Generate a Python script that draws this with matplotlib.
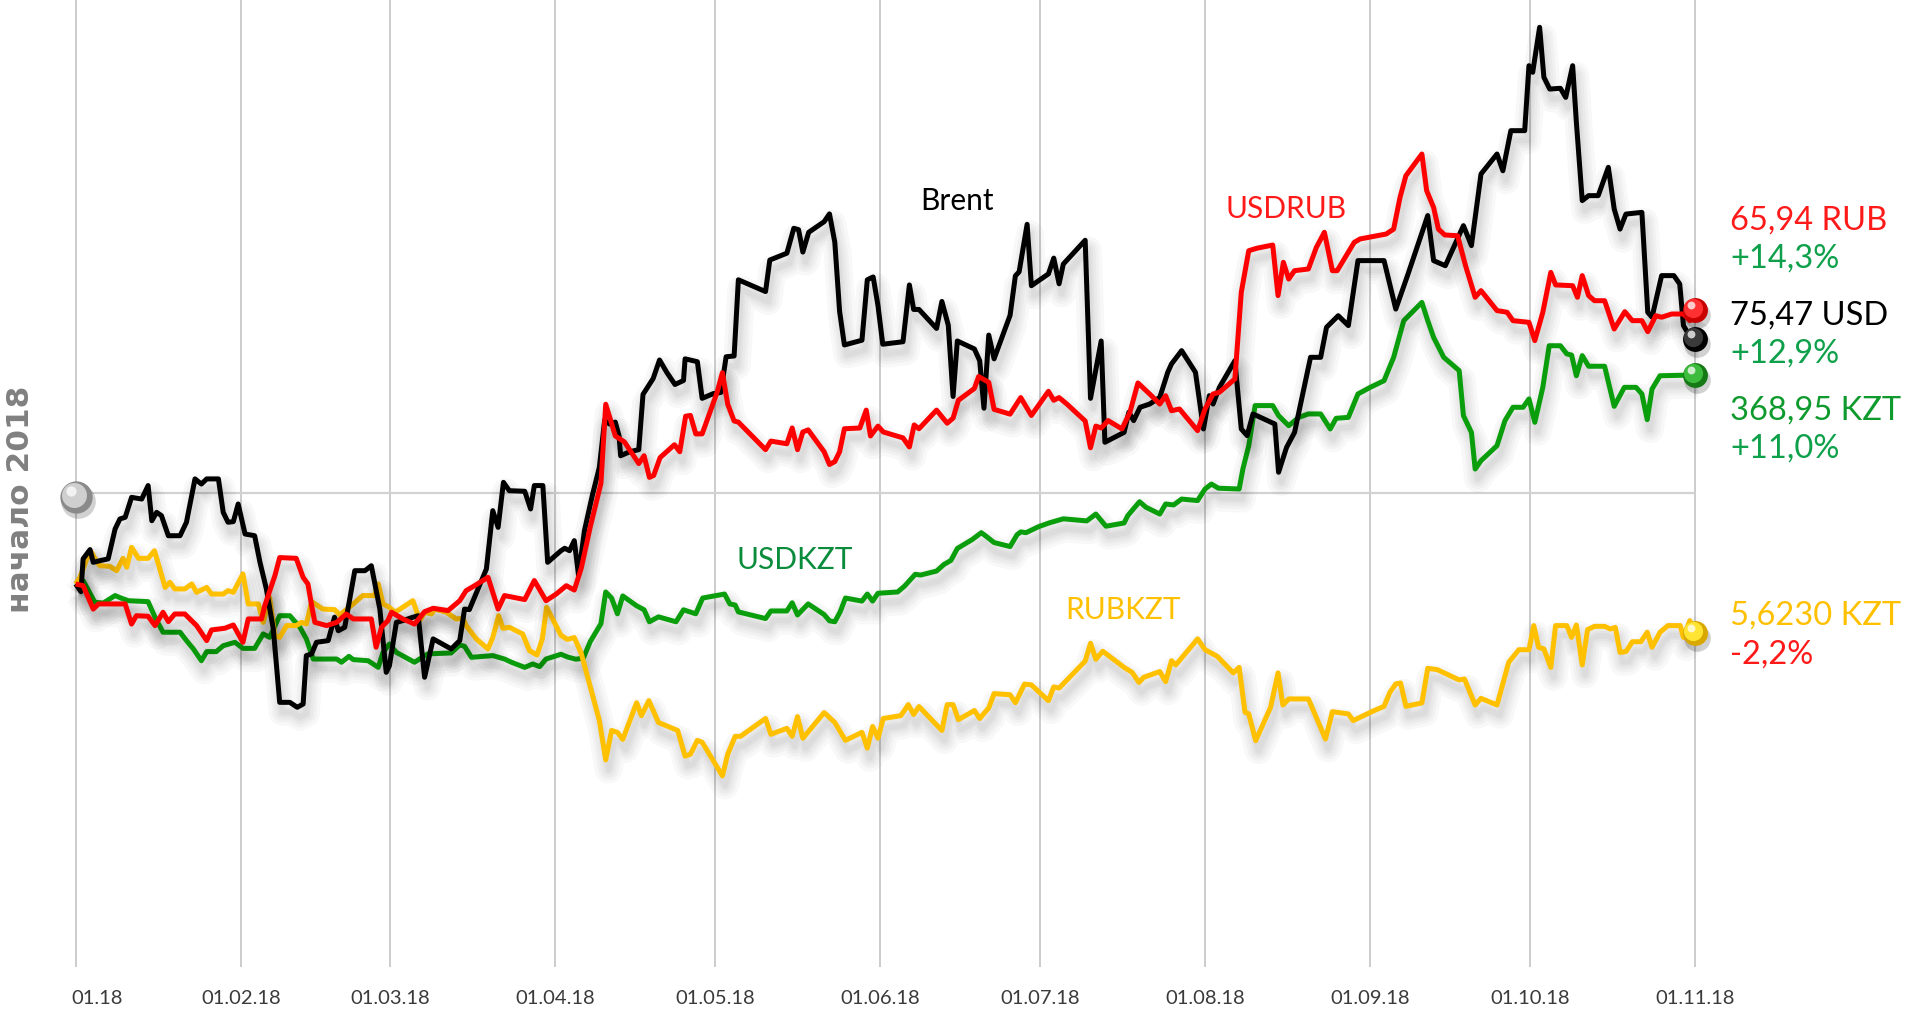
import matplotlib
matplotlib.use("Agg")
import matplotlib.pyplot as plt
import matplotlib.patheffects as pe
import matplotlib.transforms as mtransforms

plt.rcParams['font.family'] = ['Lato', 'DejaVu Sans']

# дни от 01.01.2018 и изменение к началу года, %
brent = [(0, 0), (1, -0.4), (1.4, 1.32), (2.7, 1.81), (3.3, 1.14), (4.6, 1.23), (6.1, 1.32), (7.4, 2.89),
         (8.3, 3.42), (9.3, 3.51), (10.5, 4.56), (12.4, 4.47), (13.6, 5.18), (14.3, 3.33), (15.2, 3.77),
         (16.1, 3.60), (17.4, 2.54), (19.6, 2.54), (20.8, 3.25), (22.4, 5.53), (23.6, 5.26), (24.6, 5.53),
         (26.8, 5.53), (27.7, 3.77), (28.6, 3.25), (29.6, 3.28), (30.5, 4.21), (31.8, 2.63), (33.6, 2.54),
         (34.6, 1.14), (35.8, -0.26), (37.1, -2.37), (38.3, -6.23), (40.2, -6.23), (41.6, -6.49),
         (42.7, -6.32), (43.3, -3.77), (44.3, -3.68), (45.2, -3.07), (47.4, -2.98), (48.6, -1.75),
         (49.3, -2.46), (50.5, -2.28), (52.4, 0.70), (54.3, 0.70), (55.5, 0.96), (57.1, -1.32),
         (58.3, -4.65), (58.9, -4.30), (60.2, -2.02), (61.4, -1.93), (63.3, -1.75), (64.3, -1.67),
         (65.5, -4.91), (67.1, -2.89), (70.5, -3.42), (72.1, -2.98), (73.0, -1.32), (73.9, -1.35),
         (77.1, 0.79), (78.3, 3.86), (79.3, 2.98), (80.3, 5.35), (81.4, 4.91), (84.3, 4.88), (85.4, 3.95),
         (86.1, 5.18), (87.7, 5.18), (88.6, 1.14), (91.1, 1.75), (91.8, 1.88), (92.7, 1.75), (93.6, 2.28),
         (94.4, 0.45), (95.5, 2.80), (97.0, 4.68), (98.3, 6.13), (99.3, 8.62), (100.2, 8.42), (101.3, 8.52),
         (102.0, 7.79), (102.3, 6.75), (104.0, 6.96), (105.7, 7.07), (106.5, 9.98), (108.4, 10.81),
         (109.6, 11.79), (111.0, 11.12), (112.5, 10.50), (114.1, 10.71), (114.4, 11.85), (116.7, 11.70),
         (117.6, 9.77), (119.7, 10.02), (121.1, 10.08), (122.1, 11.96), (123.6, 12.00), (124.4, 16.01),
         (129.5, 15.39), (130.3, 17.05), (133.5, 17.41), (134.8, 18.72), (135.7, 18.65), (136.5, 17.47),
         (137.6, 18.51), (140.5, 19.07), (141.5, 19.48), (142.5, 17.99), (143.4, 14.35), (144.3, 12.58),
         (147.6, 12.83), (148.6, 16.01), (149.7, 16.16), (150.6, 14.66), (151.5, 12.62), (155.3, 12.75),
         (156.5, 15.74), (157.3, 14.45), (158.3, 14.45), (161.6, 13.45), (162.6, 14.87), (163.8, 13.62),
         (164.7, 9.87), (165.5, 12.79), (168.7, 12.37), (169.7, 11.75), (170.5, 9.25), (171.4, 13.10),
         (172.4, 11.85), (175.4, 14.14), (176.4, 16.22), (177.1, 16.43), (178.6, 18.93), (179.4, 15.70),
         (182.6, 16.32), (183.6, 17.15), (184.6, 15.80), (185.4, 16.84), (189.5, 18.09), (190.5, 9.77),
         (192.5, 12.79), (193.2, 7.46), (196.8, 7.98), (197.7, 9.04), (198.6, 8.60), (199.8, 9.30),
         (201.6, 9.47), (203.5, 9.82), (205.0, 11.14), (205.7, 11.58), (207.6, 12.28), (210.2, 11.14),
         (211.7, 8.16), (212.8, 9.91), (213.5, 9.47), (214.7, 10.35), (217.6, 11.75), (218.8, 8.16),
         (219.9, 7.81), (221.0, 8.95), (225.1, 8.42), (225.8, 5.88), (227.3, 7.19), (228.8, 7.98),
         (231.8, 11.93), (233.7, 11.93), (234.8, 13.51), (237.0, 14.12), (238.9, 13.60), (240.7, 17.02),
         (245.6, 17.02), (247.8, 14.47), (250.0, 16.23), (253.8, 19.39), (254.9, 17.02), (257.1, 16.75),
         (260.5, 18.86), (262.0, 17.81), (263.8, 21.58), (266.8, 22.63), (267.9, 21.75), (269.4, 23.86),
         (272.0, 23.86), (272.8, 27.28), (273.5, 26.93), (274.8, 29.30), (275.6, 26.67), (276.7, 26.05),
         (278.7, 26.09), (279.7, 25.61), (281.0, 27.28), (281.7, 24.30), (282.8, 20.18), (284.0, 20.44),
         (285.8, 20.44), (287.7, 21.93), (288.8, 19.74), (289.9, 18.68), (291.0, 19.47), (294.0, 19.56),
         (295.1, 14.30), (295.9, 14.04), (297.7, 16.23), (300.0, 16.23), (301.1, 15.79), (301.8, 13.60),
         (303.3, 12.89), (304.0, 12.9)]

usdrub = [(0, 0), (1.4, -0.09), (3.3, -1.32), (4.3, -1.05), (9.3, -1.05), (10.5, -2.11), (11.4, -1.67),
          (13.6, -1.70), (14.9, -2.19), (16.4, -1.49), (17.4, -1.98), (18.6, -1.58), (20.5, -1.58),
          (22.7, -2.19), (24.6, -2.98), (25.5, -2.42), (28.0, -2.33), (29.6, -2.16), (31.4, -3.07),
          (32.4, -1.84), (34.9, -1.84), (35.5, -1.14), (37.4, 0.44), (38.3, 1.39), (41.4, 1.35),
          (42.7, 0.35), (43.6, 0.0), (44.3, -1.14), (44.9, -2.02), (47.1, -2.19), (49.0, -2.02),
          (50.8, -1.58), (52.1, -1.84), (55.5, -1.84), (56.4, -3.33), (57.4, -2.28), (58.6, -1.93),
          (59.3, -1.49), (61.4, -1.84), (63.6, -2.11), (65.5, -1.46), (67.1, -1.28), (69.9, -1.40),
          (72.1, -0.88), (73.3, -0.35), (74.9, -0.09), (77.4, 0.35), (79.3, -1.32), (80.5, -0.61),
          (84.3, -0.82), (86.1, 0.18), (88.3, -0.88), (90.2, -0.53), (92.1, -0.09), (93.6, -0.32),
          (94.9, 0.82), (96.6, 3.01), (98.6, 5.30), (99.5, 9.46), (100.3, 8.73), (101.3, 7.79),
          (103.0, 7.48), (105.7, 6.34), (106.7, 6.75), (107.7, 5.61), (108.5, 5.71), (109.7, 6.65),
          (112.4, 7.33), (113.4, 6.96), (114.5, 8.83), (115.4, 8.87), (116.4, 7.90), (117.6, 7.90),
          (120.4, 10.08), (121.4, 11.12), (122.4, 9.46), (123.6, 8.58), (124.4, 8.52), (129.5, 7.07),
          (130.5, 7.52), (133.5, 7.38), (134.5, 8.21), (135.5, 7.07), (136.5, 8.00), (137.5, 8.11),
          (140.5, 6.96), (141.5, 6.29), (142.5, 6.44), (143.4, 6.96), (144.3, 8.17), (147.2, 8.21),
          (148.4, 9.15), (149.2, 7.79), (150.6, 8.31), (151.6, 8.00), (155.3, 7.69), (156.5, 7.21),
          (157.4, 8.37), (158.3, 8.17), (161.6, 9.15), (163.6, 8.46), (164.7, 8.73), (165.7, 9.67),
          (168.7, 10.29), (169.5, 10.92), (171.4, 10.61), (172.4, 9.19), (175.4, 8.94), (177.4, 9.81),
          (179.4, 8.87), (182.6, 10.14), (183.6, 9.67), (184.6, 9.81), (186.1, 9.46), (189.5, 8.58),
          (190.5, 7.17), (191.5, 8.31), (192.5, 8.21), (193.8, 8.60), (196.4, 8.16), (197.9, 9.04),
          (199.4, 10.58), (201.6, 10.0), (203.5, 9.47), (204.6, 9.91), (205.7, 9.12), (207.2, 9.21),
          (210.6, 8.07), (212.0, 9.21), (213.5, 10.0), (214.7, 10.09), (217.6, 10.79), (218.8, 15.35),
          (220.2, 17.54), (221.7, 17.67), (224.7, 17.84), (225.7, 15.18), (226.7, 16.93), (227.7, 16.05),
          (228.8, 16.49), (231.4, 16.58), (232.9, 17.72), (234.4, 18.51), (235.9, 16.49), (236.8, 16.49),
          (238.5, 17.28), (240.0, 17.98), (241.1, 18.16), (246.0, 18.42), (247.4, 18.68), (248.6, 20.35),
          (249.7, 21.49), (252.7, 22.63), (253.6, 20.70), (254.9, 19.82), (255.8, 18.68), (257.0, 18.37),
          (259.4, 18.33), (260.9, 16.75), (262.7, 15.09), (263.8, 15.44), (266.8, 14.39), (268.7, 14.30),
          (269.8, 13.86), (272.8, 13.77), (273.9, 12.81), (275.4, 14.30), (276.9, 16.40), (277.8, 15.74),
          (281.0, 15.70), (281.9, 15.09), (282.8, 16.23), (284.0, 15.18), (285.1, 14.91), (287.0, 14.91),
          (288.8, 13.42), (290.8, 14.33), (292.2, 13.86), (294.0, 13.86), (295.1, 13.28), (296.6, 14.12),
          (297.7, 14.04), (299.6, 14.21), (301.8, 14.21), (303.0, 13.86), (304.0, 14.4)]

usdkzt = [(0, 0), (1.4, 0.18), (3.6, -0.96), (5.2, -1.0), (7.4, -0.61), (8.6, -0.75), (9.9, -0.88),
          (13.6, -0.93), (14.9, -1.75), (16.4, -2.54), (19.6, -2.54), (20.8, -2.98), (22.1, -3.42),
          (23.6, -4.04), (24.6, -3.56), (26.4, -3.56), (27.7, -3.25), (29.9, -3.07), (31.4, -3.39),
          (33.6, -3.39), (35.2, -2.63), (36.4, -2.81), (38.3, -1.67), (40.2, -1.67), (42.1, -2.28),
          (43.3, -2.89), (44.6, -3.95), (49.0, -3.95), (49.9, -4.12), (51.3, -3.81), (52.1, -3.98),
          (54.9, -4.04), (56.8, -4.39), (57.7, -3.60), (58.9, -3.16), (60.2, -3.60), (63.6, -4.12),
          (66.1, -3.68), (70.5, -3.63), (72.1, -3.21), (73.0, -3.28), (74.3, -3.86), (78.3, -3.77),
          (80.5, -3.95), (81.8, -4.12), (84.3, -4.39), (85.8, -4.21), (87.1, -4.35), (88.3, -3.95),
          (91.1, -3.70), (92.4, -3.85), (93.9, -3.96), (95.3, -3.90), (96.6, -3.03), (98.6, -2.09),
          (99.5, -0.42), (100.6, -0.74), (101.7, -1.57), (102.7, -0.63), (105.3, -1.15), (106.7, -1.36),
          (107.7, -1.99), (109.4, -1.73), (112.7, -1.99), (114.1, -1.36), (116.4, -1.57), (117.7, -0.74),
          (121.8, -0.53), (122.8, -1.05), (123.8, -1.11), (124.4, -1.47), (129.5, -1.82), (130.5, -1.42),
          (133.5, -1.42), (134.5, -0.99), (135.5, -1.63), (137.5, -1.05), (140.5, -1.61), (141.5, -1.94),
          (142.5, -1.99), (143.5, -1.47), (144.5, -0.74), (147.6, -0.90), (148.6, -0.53), (149.6, -0.90),
          (150.6, -0.49), (154.3, -0.42), (155.6, -0.11), (157.6, 0.51), (158.6, 0.47), (161.6, 0.68),
          (163.0, 1.03), (164.3, 1.24), (165.5, 1.87), (168.3, 2.34), (170.0, 2.70), (171.0, 2.49),
          (172.4, 2.18), (175.4, 1.97), (176.7, 2.59), (177.4, 2.74), (178.4, 2.70), (180.7, 3.01),
          (182.8, 3.22), (185.4, 3.43), (189.8, 3.32), (191.5, 3.68), (193.4, 3.04), (196.8, 3.21),
          (197.5, 3.60), (199.7, 4.33), (200.9, 4.04), (203.5, 3.68), (204.6, 4.21), (206.1, 4.16),
          (207.6, 4.47), (210.6, 4.39), (212.0, 5.0), (213.2, 5.26), (214.5, 5.04), (218.4, 5.0),
          (219.1, 6.05), (220.2, 7.28), (221.4, 9.39), (224.7, 9.39), (225.8, 8.86), (227.7, 8.33),
          (229.6, 8.77), (231.4, 8.95), (233.7, 8.95), (235.5, 8.16), (236.6, 8.72), (238.9, 8.77),
          (240.7, 10.0), (243.0, 10.35), (245.6, 10.70), (247.4, 11.93), (249.3, 13.86), (252.7, 14.82),
          (253.8, 13.86), (254.9, 12.98), (256.8, 11.93), (259.7, 11.23), (260.5, 8.86), (262.0, 7.98),
          (262.7, 6.05), (263.8, 6.49), (266.8, 7.28), (268.3, 8.60), (269.8, 9.30), (271.7, 9.30),
          (272.8, 9.74), (273.9, 8.51), (275.4, 10.35), (276.6, 12.54), (278.7, 12.54), (279.9, 12.11),
          (280.8, 12.05), (281.7, 10.96), (282.8, 12.02), (284.0, 11.46), (287.0, 11.46), (288.8, 9.35),
          (290.7, 10.35), (292.9, 10.35), (294.0, 10.0), (295.0, 8.65), (295.9, 10.26), (297.4, 10.96),
          (304.0, 11.0)]

rubkzt = [(0, 0), (0.8, 0.35), (2.1, 1.32), (3.0, 1.67), (4.0, 1.14), (4.6, 0.96), (6.4, 0.93), (7.7, 0.70),
          (8.9, 1.35), (9.6, 0.88), (10.5, 1.93), (11.8, 1.35), (13.6, 1.35), (14.8, 1.75), (15.8, 0.79),
          (16.8, -0.18), (17.7, 0.09), (18.6, -0.26), (20.5, -0.26), (21.8, 0.0), (22.7, -0.44),
          (24.6, -0.18), (25.5, -0.53), (27.7, -0.53), (28.6, -0.35), (29.6, -0.44), (31.4, 0.53),
          (32.4, -1.05), (34.3, -1.05), (35.2, -2.02), (36.4, -0.70), (37.4, -2.72), (38.3, -2.81),
          (39.6, -2.19), (41.4, -2.19), (42.4, -2.02), (43.3, -2.11), (44.3, -0.93), (46.4, -1.32),
          (48.6, -1.35), (49.6, -1.63), (52.1, -1.05), (53.9, -0.61), (56.1, -0.61), (56.8, 0.0),
          (57.7, -1.05), (58.9, -1.23), (59.9, -1.49), (61.4, -1.23), (63.3, -0.88), (64.6, -1.93),
          (65.5, -1.49), (66.8, -1.58), (67.4, -1.32), (69.6, -1.49), (71.4, -1.84), (72.7, -1.81),
          (73.3, -2.19), (75.2, -2.89), (77.4, -3.42), (78.3, -2.81), (79.4, -1.67), (80.2, -2.33),
          (81.4, -2.28), (83.9, -2.63), (85.2, -3.51), (86.6, -3.74), (87.6, -2.89), (88.4, -1.23),
          (91.1, -2.7), (92.3, -2.92), (93.6, -2.82), (94.9, -3.65), (96.3, -5.10), (98.3, -7.18),
          (99.5, -9.26), (100.6, -7.71), (101.7, -7.81), (102.7, -8.18), (105.3, -6.25), (106.2, -6.93),
          (107.6, -6.14), (109.4, -7.29), (113.0, -7.71), (114.4, -9.06), (115.4, -8.96), (116.7, -8.23),
          (117.6, -8.33), (121.4, -10.10), (122.4, -8.96), (123.8, -8.02), (124.8, -8.02), (129.5, -7.08),
          (130.5, -7.91), (133.5, -7.60), (134.5, -8.02), (135.5, -6.98), (136.5, -8.12), (140.5, -6.77),
          (142.5, -7.29), (144.5, -8.23), (147.6, -7.81), (148.6, -8.64), (149.6, -7.50), (150.6, -8.12),
          (151.6, -7.08), (154.9, -6.93), (156.3, -6.35), (157.3, -6.87), (158.3, -6.45), (162.6, -7.71),
          (163.6, -6.35), (164.7, -6.35), (165.7, -7.14), (168.7, -6.66), (169.7, -7.08), (171.4, -6.52),
          (172.4, -5.77), (175.4, -5.83), (176.4, -6.25), (178.1, -5.27), (179.4, -5.31), (182.6, -6.14),
          (183.6, -5.42), (184.6, -5.48), (189.5, -4.06), (190.5, -3.12), (191.5, -3.96), (192.8, -3.54),
          (196.8, -4.39), (198.3, -4.65), (199.6, -5.18), (200.5, -4.91), (203.5, -4.61), (204.6, -5.14),
          (205.7, -4.04), (206.5, -4.26), (210.6, -2.89), (212.0, -3.46), (214.3, -3.81), (217.3, -4.68),
          (218.4, -4.39), (219.5, -6.75), (220.2, -6.84), (221.5, -8.25), (224.3, -6.49), (225.7, -4.68),
          (226.6, -6.37), (227.7, -6.05), (231.4, -6.05), (234.6, -8.16), (235.9, -6.72), (238.9, -6.84),
          (239.8, -7.19), (243.7, -6.67), (245.6, -6.44), (246.7, -5.70), (247.8, -5.26), (248.7, -5.21),
          (249.7, -6.44), (252.7, -6.26), (253.8, -4.44), (255.6, -4.51), (259.7, -5.05), (260.7, -5.0),
          (262.7, -6.37), (263.8, -6.02), (266.8, -6.37), (269.0, -4.12), (270.9, -3.46), (272.8, -3.46),
          (273.7, -2.19), (274.6, -3.33), (275.6, -3.42), (276.9, -4.39), (277.8, -2.19), (279.9, -2.19),
          (280.8, -2.81), (281.7, -2.16), (282.8, -4.26), (283.8, -2.40), (285.1, -2.23), (287.0, -2.23),
          (288.1, -2.37), (289.0, -2.28), (289.9, -3.60), (291.0, -3.56), (292.2, -3.04), (293.8, -3.04),
          (295.0, -2.54), (295.9, -3.33), (297.4, -2.54), (298.9, -2.19), (301.2, -2.19), (301.8, -2.81),
          (303.0, -1.93), (304.0, -2.6)]

month_days = [0, 31, 59, 90, 120, 151, 181, 212, 243, 273, 304]
month_labels = ['01.18', '01.02.18', '01.03.18', '01.04.18', '01.05.18', '01.06.18',
                '01.07.18', '01.08.18', '01.09.18', '01.10.18', '01.11.18']
start_level = 4.8  # линия "начало 2018"

GREEN_TXT = '#0ea04a'
RED_TXT = '#ff1a1a'

# name, data, line colour, name colour, name pos, sphere colours,
# value text, value colour, value y, change text, change colour, change y
series = [
    ('USDKZT', usdkzt, '#0a9e0c', '#0a8c3c', (134.9, 1.3), ('#157a15', '#3dbb3d'),
     '368,95 KZT', '#0f9a2e', 9.16, '+11,0%', GREEN_TXT, 7.16),
    ('RUBKZT', rubkzt, '#ffc000', '#ffc000', (196.6, -1.3), ('#d9a800', '#ffe433'),
     '5,6230 KZT', '#ffc000', -1.63, '-2,2%', RED_TXT, -3.68),
    ('Brent', brent, '#000000', '#000000', (165.5, 20.2), ('#000000', '#3a3a3a'),
     '75,47 USD', '#000000', 14.2, '+12,9%', GREEN_TXT, 12.2),
    ('USDRUB', usdrub, '#ff0000', RED_TXT, (227.2, 19.8), ('#c80000', '#ff3030'),
     '65,94 RUB', RED_TXT, 19.16, '+14,3%', GREEN_TXT, 17.2),
]

fig = plt.figure(figsize=(19.12, 10.12), dpi=100)
ax = fig.add_axes([0, 44 / 1012, 1, 968 / 1012])
ax.set_xlim(-14.2, 344.7)
ax.set_ylim(-20.16, 30.79)
ax.axis('off')

for d in month_days:
    ax.axvline(d, color='#c8c8c8', lw=1.3, zorder=0)
ax.hlines(start_level, month_days[0], month_days[-1], color='#d2d2d2', lw=1.6, zorder=0)

xtr = mtransforms.blended_transform_factory(ax.transData, ax.transAxes)
for i, (d, lab) in enumerate(zip(month_days, month_labels)):
    ax.text(d + (4 if i == 0 else 0), -0.032, lab, transform=xtr, ha='center', va='center',
            fontsize=14.5, color='#3a3a3a', clip_on=False)

ax.text(-10.3, start_level - 0.3, 'начало 2018', rotation=90, ha='center', va='center',
        fontsize=22.5, fontweight='bold', color='#808080', family=['DejaVu Sans'])

shadow = [pe.SimpleLineShadow(offset=(2, -7), shadow_color='black', alpha=0.028, linewidth=w)
          for w in (20, 15, 11, 7, 4)] + [pe.Normal()]


def sphere(x, y, dark, light, s, z=10):
    sh = mtransforms.offset_copy(ax.transData, fig=fig, x=1.5, y=-3.5, units='points')
    ax.scatter([x], [y], s=s * 1.15, color='black', alpha=0.18, lw=0, transform=sh, zorder=z)
    ax.scatter([x], [y], s=s, color=dark, lw=0, zorder=z + 1)
    mid = mtransforms.offset_copy(ax.transData, fig=fig, x=-1.4, y=1.4, units='points')
    ax.scatter([x], [y], s=s * 0.6, color=light, lw=0, transform=mid, zorder=z + 2)
    hi = mtransforms.offset_copy(ax.transData, fig=fig, x=-3, y=3.8, units='points')
    ax.scatter([x], [y], s=s * 0.1, color='white', alpha=0.75, lw=0, transform=hi, zorder=z + 3)


for k, (name, data, lc, nc, npos, sc, val, val_c, vy, chg, chg_c, cy) in enumerate(series):
    xs = [p[0] for p in data]
    ys = [p[1] for p in data]
    ax.plot(xs, ys, color=lc, lw=3.6, solid_joinstyle='round', solid_capstyle='butt',
            path_effects=shadow, zorder=2 + k)
    ax.text(npos[0], npos[1], name, color=nc, fontsize=21.5, ha='center', va='center')
    sphere(xs[-1], ys[-1], sc[0], sc[1], 320)
    ax.text(310.6, vy, val, color=val_c, fontsize=23.5, ha='left', va='center')
    ax.text(310.6, cy, chg, color=chg_c, fontsize=23.5, ha='left', va='center')

sphere(0, start_level - 0.2, '#8a8a8a', '#cfcfcf', 540)

fig.savefig('out.png', dpi=100)
